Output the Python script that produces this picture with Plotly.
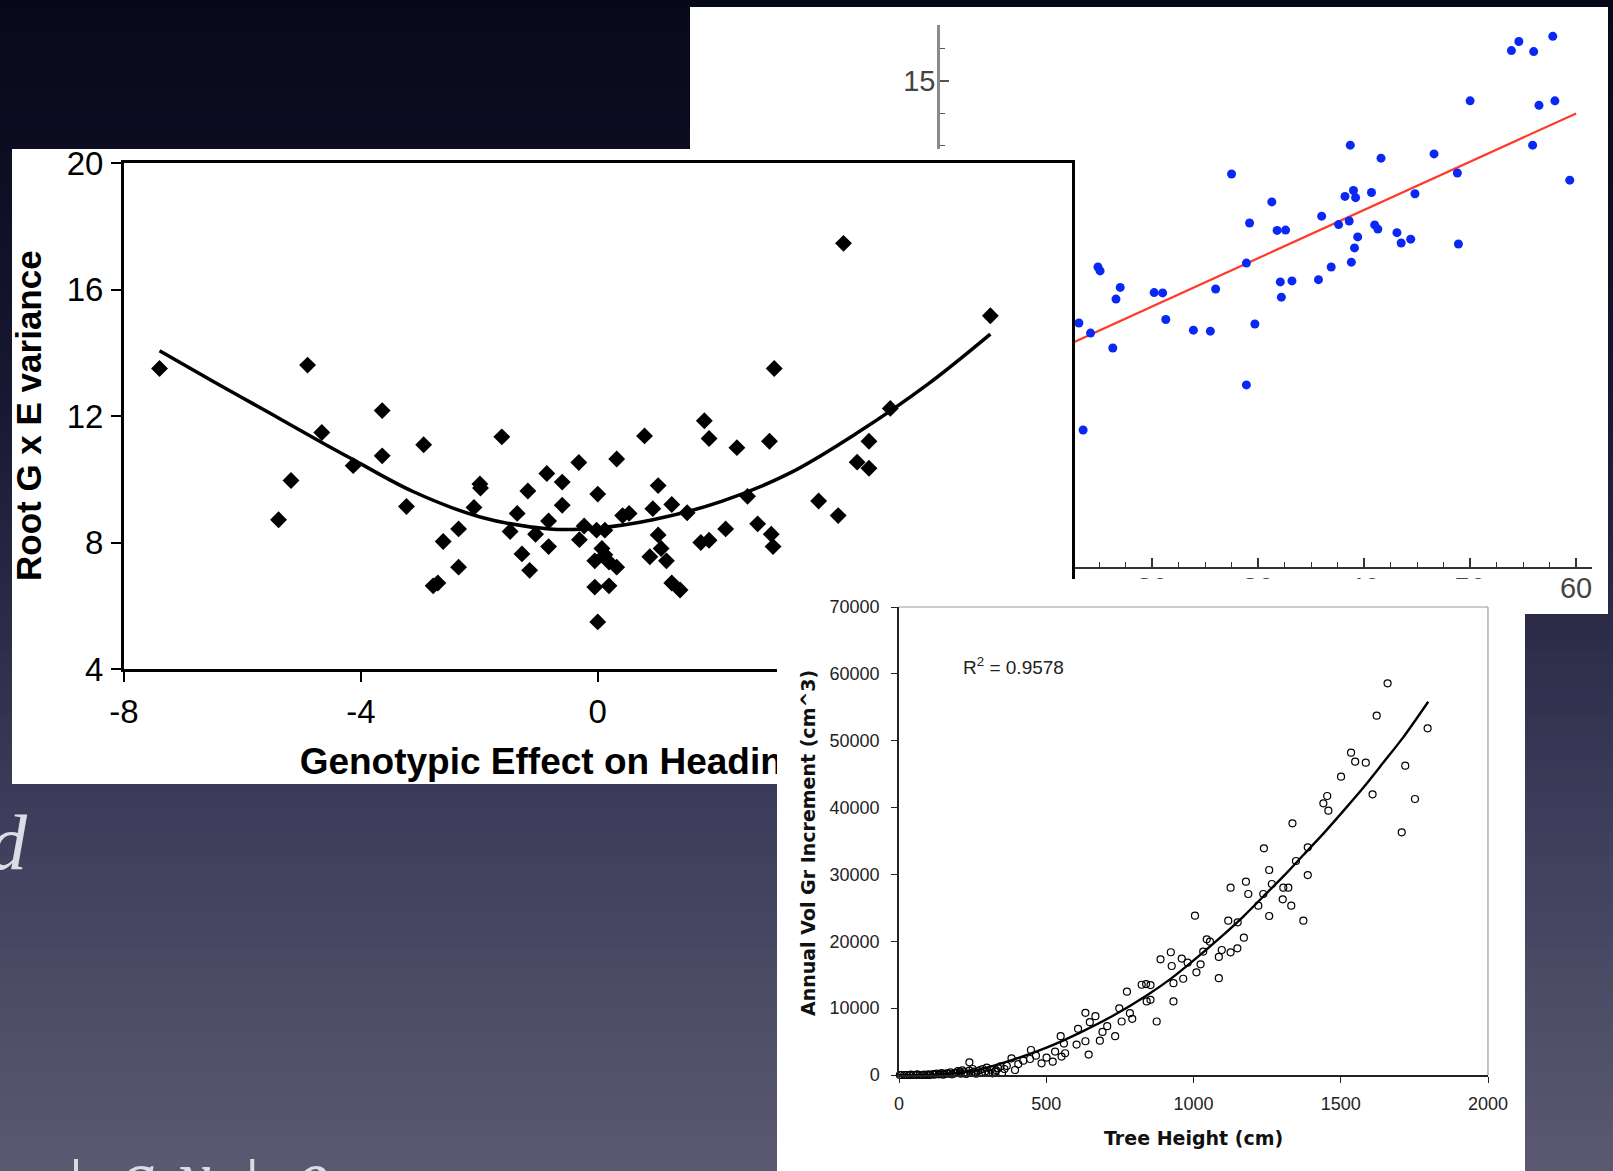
import numpy as np
import plotly.graph_objects as go

W, H = 1613, 1171

# ---------------- Panel A (blue scatter with red linear fit) ----------------
a_x = [57.8, 54.6, 53.9, 56.0, 50.0, 56.5, 58.0, 38.7, 41.6, 46.6, 55.9, 59.4, 48.8, 27.5,
       31.3, 38.2, 39.0, 39.2, 40.7, 44.8, 29.2, 31.8, 32.6, 36.0, 37.6, 38.6, 41.0, 41.3,
       39.4, 39.1, 43.1, 43.5, 44.4, 48.9, 38.8, 36.9, 28.9, 35.7, 32.1, 33.2, 32.2, 26.0,
       20.2, 21.0, 14.9, 15.1, 17.0, 16.6, 21.3, 23.9, 25.5, 29.7, 14.2, 13.1, 16.3, 28.9, 13.5]
a_y = [16.38, 16.22, 15.94, 15.91, 14.39, 14.25, 14.39, 13.02, 12.62, 12.75, 13.02, 11.94, 12.16, 12.13,
       11.27, 11.44, 11.62, 11.40, 11.56, 11.52, 10.62, 10.39, 10.40, 10.83, 10.57, 10.68, 10.56, 10.43,
       10.19, 9.85, 10.32, 10.00, 10.12, 9.97, 9.41, 9.26, 9.38, 8.87, 8.80, 8.83, 8.33, 8.58,
       8.47, 8.46, 9.26, 9.14, 8.63, 8.27, 7.64, 7.31, 7.28, 7.50, 7.22, 7.53, 6.76, 5.62, 4.23]
a_fit_x = [0, 60]
a_fit_y = [5.06, 14.0]

# ---------------- Panel B (diamonds with quadratic curve) ----------------
b_x = [-7.40, -5.39, -5.18, -4.90, -4.66, -4.13, -3.64, -3.64, -3.23, -2.94, -2.78, -2.70, -2.61, -2.35,
       -2.35, -2.09, -1.99, -1.98, -1.62, -1.48, -1.36, -1.28, -1.18, -1.15, -1.05, -0.86, -0.83, -0.83,
       -0.60, -0.60, -0.32, -0.31, -0.23, -0.02, 0.00, -0.05, -0.05, 0.00, 0.07, 0.12, 0.12, 0.19,
       0.19, 0.32, 0.32, 0.42, 0.53, 0.79, 0.88, 0.93, 1.02, 1.02, 1.07, 1.16, 1.25, 1.25,
       1.39, 1.51, 1.74, 1.80, 1.88, 1.88, 2.16, 2.35, 2.53, 2.70, 2.90, 2.93, 2.96, 2.98,
       3.73, 4.06, 4.15, 4.38, 4.58, 4.58, 4.94, 6.63]
b_y = [13.50, 8.72, 9.96, 13.61, 11.48, 10.43, 12.17, 10.74, 9.14, 11.09, 6.63, 6.72, 8.03, 7.22,
       8.43, 9.11, 9.85, 9.72, 11.34, 8.35, 8.92, 7.64, 9.63, 7.12, 8.26, 10.18, 8.68, 7.87,
       9.91, 9.18, 10.53, 8.09, 8.52, 8.39, 9.53, 7.42, 6.59, 5.49, 7.81, 8.39, 7.61, 7.38,
       6.63, 10.64, 7.22, 8.85, 8.92, 11.37, 7.55, 9.07, 9.80, 8.24, 7.81, 7.42, 9.20, 6.72,
       6.50, 8.94, 8.00, 11.85, 11.29, 8.07, 8.43, 11.00, 9.46, 8.59, 11.20, 8.26, 7.87, 13.50,
       9.31, 8.85, 17.46, 10.54, 10.35, 11.20, 12.24, 15.17]
b_curve_x = [-7.40, -6.50, -5.45, -4.60, -4.13, -3.13, -1.97, -0.81, 0.0, 0.93, 2.09, 3.25, 4.41, 5.57, 6.63]
b_curve_y = [14.06, 13.10, 12.00, 11.10, 10.62, 9.62, 8.80, 8.43, 8.46, 8.72, 9.30, 10.20, 11.50, 13.00, 14.59]
b_xticks = [-8, -4, 0, 4, 8]
b_xticktext = ["-8", "-4", "0", "4", "8"]
b_yticks = [4, 8, 12, 16, 20]
b_xtitle = "Genotypic Effect on Heading Date"
b_ytitle = "Root G x E variance"

# ---------------- Panel C (tree height vs volume increment) ----------------
c_x = [1659, 1622, 1795, 1535, 1549, 1585, 1719, 1501, 1608, 1752, 1454, 1441, 1458, 1707,
       1336, 1388, 1239, 1348, 1257, 1388, 1178, 1126, 1266, 1237, 1186, 1305, 1322, 1303,
       1332, 1220, 1257, 1373, 1005, 1118, 1150, 1171, 1045, 1056, 1096, 1126, 1149, 1086,
       1033, 1024, 980, 923, 926, 888, 960, 1010, 965, 1086,
       932, 932, 875, 824, 839, 854, 841, 854, 774, 748, 756, 792, 784, 633, 667, 648,
       608, 633, 603, 644, 682, 691, 707, 734, 549, 560, 564, 552, 522, 530, 501, 484,
       465, 448, 445, 422, 405, 382, 394, 366, 337, 326, 298, 275, 239, 239, 207, 190,
       162, 139, 116, 94, 71, 49, 26, 3,
       10, 18, 35, 40, 58, 62, 80, 85, 100, 105, 120, 128, 135, 145, 150, 155, 168, 175,
       180, 195, 200, 210, 215, 222, 228, 245, 250, 255, 262, 268, 280, 285, 292, 305,
       312, 318, 330, 345, 350, 358]
c_y = [58580, 53745, 51850, 48210, 46865, 46715, 46265, 44620, 41980, 41280, 41730, 40635, 39530, 36300,
       37640, 34050, 33905, 32010, 30660, 29910, 28920, 28020, 28570, 27070, 27070, 28020, 28020, 26270,
       25330, 25330, 23780, 23090, 23830, 23090, 22830, 20540, 20290, 19940, 18700, 18350, 18950, 17660,
       18460, 16550, 16800, 18360, 16300, 17300, 17410, 15350, 14400, 14480,
       13735, 11000, 8000, 13500, 13600, 13450, 11000, 11250, 12460, 9970, 8000, 8400, 9250, 9300, 8800, 7900,
       6900, 5050, 4550, 3060, 5140, 6440, 7300, 5800, 5800, 4700, 3250, 2750, 2000, 3500, 2600, 1750,
       2890, 3740, 2390, 2140, 1640, 2490, 750, 1350, 1000, 500, 1100, 750, 1900, 650, 500, 250,
       250, 150, 150, 0, 0, 0, 0, 0,
       0, 0, 0, 50, 0, 100, 0, 50, 100, 0, 50, 200, 100, 300, 50, 150, 200, 400,
       100, 350, 600, 200, 700, 400, 150, 300, 900, 500, 200, 600, 300, 900, 500, 400,
       800, 250, 700, 1300, 300, 900]
c_curve_x = [0, 162, 275, 388, 501, 615, 728, 841, 920, 988, 1079, 1169, 1237, 1305, 1373,
             1441, 1509, 1577, 1644, 1712, 1797]
c_curve_y = [0, 150, 850, 2300, 4100, 6350, 8900, 11900, 14300, 16700, 20100, 23700, 26700, 29700,
             32900, 36100, 39500, 43000, 46700, 50500, 55834]
c_r2_text = "R<sup>2</sup> = 0.9578"
c_xtitle = "Tree Height (cm)"
c_ytitle = "Annual Vol Gr Increment (cm^3)"

# ---------------- slide texts ----------------
slide_text_1 = "d"
slide_text_2 = "+ <i>a x</i> + <i>e</i>"

# ---------------- geometry helpers (pixel -> paper) ----------------
def dx(x0, x1):
    return [x0 / W, x1 / W]


def dy(top, bottom):
    return [max(0.0, 1 - bottom / H), min(1.0, 1 - top / H)]


def px(x):
    return x / W


def py(y):
    return 1 - y / H


SANS = "Liberation Sans, Arial, sans-serif"
WIDE = "DejaVu Sans, Verdana, sans-serif"
SERIF = "Liberation Serif, Times New Roman, serif"

fig = go.Figure()

rect_x = [0, 1, 1, 0, 0]
rect_y = [0, 0, 1, 1, 0]


def bg_trace(n):
    return go.Scatter(x=rect_x, y=rect_y, xaxis="x%d" % n if n > 1 else "x",
                      yaxis="y%d" % n if n > 1 else "y", mode="lines", fill="toself",
                      fillcolor="white", line=dict(width=0, color="white"),
                      hoverinfo="skip", showlegend=False)


# Panel A background + data
fig.add_trace(bg_trace(1))
fig.add_trace(go.Scatter(x=a_fit_x, y=a_fit_y, xaxis="x2", yaxis="y2", mode="lines",
                         line=dict(color="#ff3a2a", width=2.2), showlegend=False, hoverinfo="skip"))
fig.add_trace(go.Scatter(x=a_x, y=a_y, xaxis="x2", yaxis="y2", mode="markers",
                         marker=dict(color="#0a28f5", size=9), showlegend=False))

# Panel B background + data
fig.add_trace(bg_trace(3))
fig.add_trace(go.Scatter(x=b_curve_x, y=b_curve_y, xaxis="x4", yaxis="y4", mode="lines",
                         line=dict(color="black", width=3.5, shape="spline", smoothing=1.0),
                         showlegend=False, hoverinfo="skip"))
fig.add_trace(go.Scatter(x=b_x, y=b_y, xaxis="x4", yaxis="y4", mode="markers",
                         marker=dict(color="black", symbol="diamond", size=13),
                         showlegend=False))
# helper (invisible) trace for the B x-axis title axis
fig.add_trace(go.Scatter(x=[0], y=[4], xaxis="x5", yaxis="y4", mode="markers",
                         marker=dict(opacity=0), showlegend=False, hoverinfo="skip"))

# Panel C background + data
fig.add_trace(bg_trace(6))
fig.add_trace(go.Scatter(x=c_curve_x, y=c_curve_y, xaxis="x7", yaxis="y7", mode="lines",
                         line=dict(color="black", width=2.4, shape="spline", smoothing=0.8),
                         showlegend=False, hoverinfo="skip"))
fig.add_trace(go.Scatter(x=c_x, y=c_y, xaxis="x7", yaxis="y7", mode="markers",
                         marker=dict(symbol="circle-open", size=7, color="black",
                                     line=dict(width=1.2, color="black")),
                         cliponaxis=False, showlegend=False))

hidden = dict(visible=False, range=[0, 1], fixedrange=True, showgrid=False, zeroline=False)

# background gradient of the slide
stops_y = np.array([0, 150, 400, 620, 800, 1000, 1171], dtype=float)
stops_c = np.array([[8, 9, 24], [12, 13, 32], [24, 24, 50], [43, 43, 72],
                    [60, 60, 90], [77, 76, 102], [91, 90, 113]], dtype=float)
shapes = []
nb = 90
edges = np.linspace(0, H, nb + 1)
for i in range(nb):
    mid = 0.5 * (edges[i] + edges[i + 1])
    col = [np.interp(mid, stops_y, stops_c[:, k]) for k in range(3)]
    shapes.append(dict(type="rect", xref="paper", yref="paper", x0=0, x1=1,
                       y0=max(0.0, py(edges[i + 1]) - 0.001), y1=min(1.0, py(edges[i]) + 0.001),
                       line=dict(width=0),
                       fillcolor="rgb(%d,%d,%d)" % tuple(int(round(c)) for c in col),
                       layer="below"))

# gray frame (top & right) of panel C plot area
shapes.append(dict(type="line", xref="x7 domain", yref="y7 domain", x0=0, x1=1, y0=1, y1=1,
                   line=dict(color="#9a9a9a", width=1.2), layer="above"))
shapes.append(dict(type="line", xref="x7 domain", yref="y7 domain", x0=1, x1=1, y0=0, y1=1,
                   line=dict(color="#9a9a9a", width=1.2), layer="above"))

layout = dict(
    width=W, height=H, autosize=False,
    margin=dict(l=0, r=0, t=0, b=0, pad=0, autoexpand=False),
    paper_bgcolor="rgb(8,9,24)", plot_bgcolor="rgba(0,0,0,0)",
    showlegend=False,
    shapes=shapes,
    # Panel A
    xaxis=dict(hidden, domain=dx(690, 1608), anchor="y"),
    yaxis=dict(hidden, domain=dy(7, 614), anchor="x"),
    xaxis2=dict(domain=dx(940, 1592), anchor="y2", range=[0, 61.5], showgrid=False, zeroline=False,
                showline=True, linecolor="#333", linewidth=2,
                ticks="inside", ticklen=9, tickwidth=1.5, tickcolor="#333", tick0=0, dtick=10,
                minor=dict(ticks="inside", dtick=2.5, ticklen=5, tickwidth=1.2, tickcolor="#333"),
                tickfont=dict(family=SANS, size=29, color="#444"), ticklabelstandoff=-6),
    yaxis2=dict(domain=dy(25, 567), anchor="x2", range=[0, 16.73], showgrid=False, zeroline=False,
                showline=True, linecolor="#8a8a8a", linewidth=2.5,
                ticks="inside", ticklen=9, tickwidth=1.5, tickcolor="#555", tick0=0, dtick=5,
                minor=dict(ticks="inside", dtick=1, ticklen=5, tickwidth=1.2, tickcolor="#555"),
                tickfont=dict(family=SANS, size=29, color="#444"), ticklabelstandoff=-4),
    # Panel B
    xaxis3=dict(hidden, domain=dx(12, 1075), anchor="y3"),
    yaxis3=dict(hidden, domain=dy(149, 784), anchor="x3"),
    xaxis4=dict(domain=dx(124, 1071.5), anchor="y4", range=[-8, 8], tickvals=b_xticks,
                ticktext=b_xticktext,
                showgrid=False, zeroline=False, showline=True, mirror=True, linecolor="black",
                linewidth=3, ticks="outside", ticklen=10, tickwidth=2, tickcolor="black",
                tickfont=dict(family=SANS, size=33, color="black"), ticklabelstandoff=1),
    yaxis4=dict(domain=dy(163, 669), anchor="x4", range=[4, 20], tickvals=b_yticks,
                showgrid=False, zeroline=False, showline=True, mirror=True, linecolor="black",
                linewidth=3, ticks="outside", ticklen=10, tickwidth=2, tickcolor="black",
                tickfont=dict(family=SANS, size=33, color="black"), ticklabelstandoff=1),
    xaxis5=dict(overlaying="x4", anchor="y4", side="bottom", range=[-8, 8], tickvals=[0],
                ticktext=[b_xtitle], showgrid=False, zeroline=False,
                showline=False, ticks="",
                tickfont=dict(family=SANS, size=37, color="black", weight="bold"),
                ticklabelstandoff=67),
    # Panel C
    xaxis6=dict(hidden, domain=dx(777, 1525), anchor="y6"),
    yaxis6=dict(hidden, domain=dy(579, 1171), anchor="x6"),
    xaxis7=dict(domain=dx(899, 1488), anchor="y7", range=[0, 2000], dtick=500, tick0=0,
                tickformat="d", showgrid=False, zeroline=False, showline=True, linecolor="#222",
                linewidth=1.5, ticks="outside", ticklen=6, tickwidth=1.2, tickcolor="#222",
                tickfont=dict(family=SANS, size=18, color="#222"), ticklabelstandoff=6),
    yaxis7=dict(domain=dy(607, 1075), anchor="x7", range=[0, 70000], dtick=10000, tick0=0,
                tickformat="d", showgrid=False, zeroline=False, showline=True, linecolor="#222",
                linewidth=1.5, ticks="outside", ticklen=6, tickwidth=1.2, tickcolor="#222",
                tickfont=dict(family=SANS, size=18, color="#222"), ticklabelstandoff=8),
    annotations=[
        dict(text="<b>" + b_ytitle + "</b>", xref="paper", yref="paper", x=px(28), y=py(416),
             xanchor="center", yanchor="middle", textangle=-90, showarrow=False,
             font=dict(family=SANS, size=35, color="black")),
        dict(text="<b>" + c_ytitle + "</b>", xref="paper", yref="paper",
             x=px(808), y=py(843), xanchor="center", yanchor="middle", textangle=-90,
             showarrow=False, font=dict(family=WIDE, size=19, color="#111")),
        dict(text="<b>" + c_xtitle + "</b>", xref="paper", yref="paper", x=px(1193), y=py(1138),
             xanchor="center", yanchor="middle", showarrow=False,
             font=dict(family=WIDE, size=19, color="#111")),
        dict(text=c_r2_text, xref="paper", yref="paper", x=px(961), y=py(666),
             xanchor="left", yanchor="middle", showarrow=False,
             font=dict(family=SANS, size=19, color="#222")),
        dict(text="<i>" + slide_text_1 + "</i>", xref="paper", yref="paper", x=px(30), y=py(888),
             xanchor="right", yanchor="bottom", showarrow=False,
             font=dict(family=SERIF, size=78, color="#dcdce4")),
        dict(text=slide_text_2, xref="paper", yref="paper", x=px(52), y=py(1131),
             xanchor="left", yanchor="top", showarrow=False,
             font=dict(family=SERIF, size=78, color="#dcdce4")),
    ],
)

fig.update_layout(**layout)
fig.write_html(
    "out.html",
    config={"displayModeBar": False},
    post_script="document.body.style.margin='0';document.body.style.overflow='hidden';",
)
